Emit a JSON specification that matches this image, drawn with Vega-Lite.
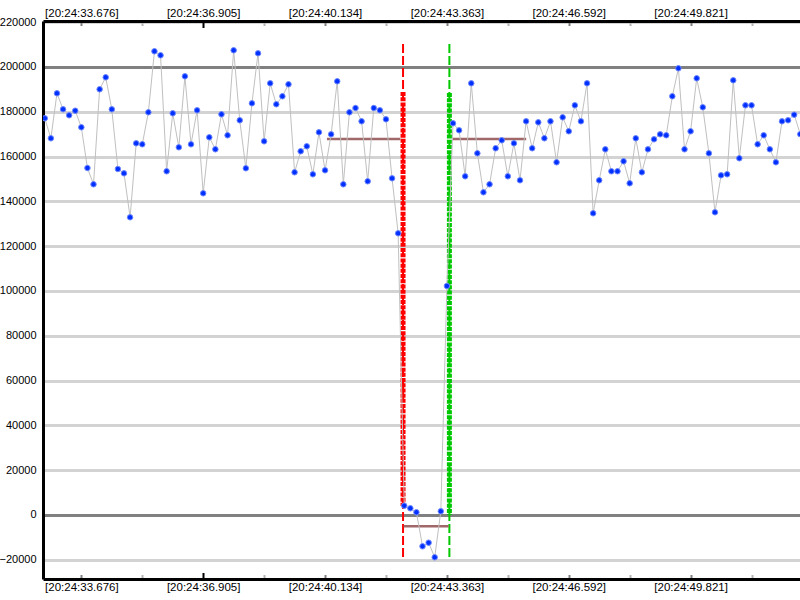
{
  "$schema": "https://vega.github.io/schema/vega-lite/v6.json",
  "width": 757,
  "height": 558,
  "autosize": "none",
  "padding": {"left": 43, "top": 21, "right": 0, "bottom": 21},
  "background": "white",
  "config": {
    "view": {"stroke": null},
    "axis": {"labelFont": "Liberation Sans", "labelFontSize": 11.5, "labelColor": "black", "labelFontWeight": "normal"},
    "axisY": {"labelFontSize": 11}
  },
  "datasets": {
    "pts": [
      {"t": 32.7073, "v": 177100}, {"t": 32.8688, "v": 168160}, {"t": 33.0302, "v": 188250}, {"t": 33.1917, "v": 181100},
      {"t": 33.3531, "v": 178430}, {"t": 33.5146, "v": 180480}, {"t": 33.676, "v": 173070}, {"t": 33.8375, "v": 154900},
      {"t": 33.9989, "v": 147620}, {"t": 34.1604, "v": 190030}, {"t": 34.3218, "v": 195390}, {"t": 34.4833, "v": 181100},
      {"t": 34.6447, "v": 154450}, {"t": 34.8062, "v": 152530}, {"t": 34.9676, "v": 132890}, {"t": 35.1291, "v": 165930},
      {"t": 35.2905, "v": 165480}, {"t": 35.452, "v": 179770}, {"t": 35.6134, "v": 207000}, {"t": 35.7749, "v": 205210},
      {"t": 35.9363, "v": 153430}, {"t": 36.0978, "v": 179320}, {"t": 36.2592, "v": 164140}, {"t": 36.4207, "v": 195830},
      {"t": 36.5821, "v": 165480}, {"t": 36.7436, "v": 180660}, {"t": 36.905, "v": 143610}, {"t": 37.0665, "v": 168600},
      {"t": 37.2279, "v": 163250}, {"t": 37.3894, "v": 178870}, {"t": 37.5508, "v": 169500}, {"t": 37.7123, "v": 207440},
      {"t": 37.8737, "v": 176200}, {"t": 38.0352, "v": 154770}, {"t": 38.1966, "v": 183780}, {"t": 38.3581, "v": 206100},
      {"t": 38.5195, "v": 166820}, {"t": 38.681, "v": 192710}, {"t": 38.8424, "v": 183340}, {"t": 39.0039, "v": 186910},
      {"t": 39.1653, "v": 192260}, {"t": 39.3268, "v": 152980}, {"t": 39.4882, "v": 162360}, {"t": 39.6497, "v": 164590},
      {"t": 39.8111, "v": 152090}, {"t": 39.9726, "v": 170840}, {"t": 40.134, "v": 153870}, {"t": 40.2955, "v": 169940},
      {"t": 40.4569, "v": 193600}, {"t": 40.6184, "v": 147620}, {"t": 40.7798, "v": 179770}, {"t": 40.9413, "v": 181680},
      {"t": 41.1027, "v": 175750}, {"t": 41.2642, "v": 148960}, {"t": 41.4256, "v": 181680}, {"t": 41.5871, "v": 180660},
      {"t": 41.7485, "v": 176640}, {"t": 41.91, "v": 150300}, {"t": 42.0714, "v": 125750}, {"t": 42.2329, "v": 4150},
      {"t": 42.3943, "v": 2990}, {"t": 42.5558, "v": 1205}, {"t": 42.7172, "v": -13970}, {"t": 42.8787, "v": -12370},
      {"t": 43.0401, "v": -18880}, {"t": 43.2016, "v": 1650}, {"t": 43.363, "v": 102230}, {"t": 43.5245, "v": 174850},
      {"t": 43.6859, "v": 171730}, {"t": 43.8474, "v": 151190}, {"t": 44.0088, "v": 192710}, {"t": 44.1703, "v": 161460},
      {"t": 44.3317, "v": 144050}, {"t": 44.4932, "v": 147620}, {"t": 44.6546, "v": 163700}, {"t": 44.8161, "v": 167270},
      {"t": 44.9775, "v": 151190}, {"t": 45.139, "v": 165930}, {"t": 45.3004, "v": 149410}, {"t": 45.4619, "v": 175750},
      {"t": 45.6233, "v": 163700}, {"t": 45.7848, "v": 175300}, {"t": 45.9462, "v": 168160}, {"t": 46.1077, "v": 175750},
      {"t": 46.2691, "v": 157450}, {"t": 46.4306, "v": 177530}, {"t": 46.592, "v": 171280}, {"t": 46.7535, "v": 182890},
      {"t": 46.9149, "v": 175750}, {"t": 47.0764, "v": 192710}, {"t": 47.2378, "v": 134680}, {"t": 47.3993, "v": 149410},
      {"t": 47.5607, "v": 163250}, {"t": 47.7222, "v": 153430}, {"t": 47.8836, "v": 153430}, {"t": 48.0451, "v": 157890},
      {"t": 48.2065, "v": 148070}, {"t": 48.368, "v": 168160}, {"t": 48.5294, "v": 152980}, {"t": 48.6909, "v": 163250},
      {"t": 48.8523, "v": 167710}, {"t": 49.0138, "v": 169940}, {"t": 49.1752, "v": 169500}, {"t": 49.3367, "v": 186910},
      {"t": 49.4981, "v": 199410}, {"t": 49.6596, "v": 163250}, {"t": 49.821, "v": 171280}, {"t": 49.9825, "v": 194940},
      {"t": 50.1439, "v": 182000}, {"t": 50.3054, "v": 161460}, {"t": 50.4668, "v": 135130}, {"t": 50.6283, "v": 151640},
      {"t": 50.7897, "v": 152090}, {"t": 50.9512, "v": 194050}, {"t": 51.1126, "v": 159230}, {"t": 51.2741, "v": 182890},
      {"t": 51.4355, "v": 182890}, {"t": 51.597, "v": 165480}, {"t": 51.7584, "v": 169500}, {"t": 51.9199, "v": 163250},
      {"t": 52.0813, "v": 157450}, {"t": 52.2428, "v": 175750}, {"t": 52.4042, "v": 176200}, {"t": 52.5657, "v": 178690},
      {"t": 52.7271, "v": 170000}
    ],
    "markers": [
      {"series": "start", "t": 42.201, "top": 210250, "bottom": -19200},
      {"series": "end", "t": 43.429, "top": 210250, "bottom": -19200}
    ],
    "fills": [
      {"series": "start", "t": 42.201, "top": 188800, "bottom": 4000},
      {"series": "end", "t": 43.429, "top": 188400, "bottom": 0}
    ],
    "means": [
      {"t1": 40.185, "t2": 42.13, "v": 167850},
      {"t1": 42.217, "t2": 43.411, "v": -5040},
      {"t1": 43.509, "t2": 45.464, "v": 167850}
    ]
  },
  "resolve": {"axis": {"x": "independent"}},
  "layer": [
    {
      "data": {"name": "markers"},
      "mark": {"type": "rule", "strokeWidth": 2, "strokeDash": [9, 3]},
      "encoding": {
        "x": {
          "field": "t", "type": "quantitative",
          "scale": {"domain": [32.66, 52.72], "nice": false, "zero": false},
          "axis": {
            "orient": "top", "title": null, "grid": false,
            "values": [33.676, 35.2905, 36.905, 38.5195, 40.134, 41.7485, 43.363, 44.9775, 46.592, 48.2065, 49.821, 51.4355],
            "labelExpr": "abs((datum.value - 33.676) / 3.229 - round((datum.value - 33.676) / 3.229)) < 0.01 ? '[20:24:' + format(datum.value, '06.3f') + ']' : ''",
            "labelOverlap": false, "labelFlush": false,
            "domainColor": "black", "domainWidth": 3,
            "ticks": true, "tickWidth": 2,
            "tickSize": {"condition": {"test": "datum.value == 36.905", "value": -6.5}, "value": -4.5},
            "tickColor": {"condition": [
              {"test": "datum.value == 36.905", "value": "black"},
              {"test": "abs((datum.value - 33.676) / 3.229 - round((datum.value - 33.676) / 3.229)) < 0.01", "value": "#808080"}
            ], "value": "#b4b4b4"},
            "labelPadding": {"condition": {"test": "datum.value == 36.905", "value": 9.5}, "value": 7.5}
          }
        },
        "y": {
          "field": "top", "type": "quantitative",
          "scale": {"domain": [-28570, 220520], "nice": false, "zero": false},
          "axis": {
            "title": null, "orient": "left",
            "values": [-20000, 0, 20000, 40000, 60000, 80000, 100000, 120000, 140000, 160000, 180000, 200000, 220000],
            "format": "d", "grid": true, "gridWidth": 3,
            "gridColor": {"condition": {"test": "datum.value == 0 || datum.value == 200000", "value": "#808080"}, "value": "#d3d3d3"},
            "domainColor": "black", "domainWidth": 3, "ticks": false, "labelPadding": 7
          }
        },
        "y2": {"field": "bottom"},
        "color": {"field": "series", "type": "nominal", "scale": {"domain": ["start", "end"], "range": ["#ff0000", "#00c800"]}, "legend": null}
      }
    },
    {
      "data": {"name": "fills"},
      "mark": {"type": "rule", "strokeWidth": 5, "strokeDash": [4, 1.2]},
      "encoding": {
        "x": {"field": "t", "type": "quantitative", "scale": {"domain": [32.66, 52.72], "nice": false, "zero": false}, "axis": null},
        "y": {
          "field": "top", "type": "quantitative",
          "scale": {"domain": [-28570, 220520], "nice": false, "zero": false},
          "axis": {
            "title": null, "orient": "left",
            "values": [-20000, 0, 20000, 40000, 60000, 80000, 100000, 120000, 140000, 160000, 180000, 200000, 220000],
            "format": "d", "grid": true, "gridWidth": 3,
            "gridColor": {"condition": {"test": "datum.value == 0 || datum.value == 200000", "value": "#808080"}, "value": "#d3d3d3"},
            "domainColor": "black", "domainWidth": 3, "ticks": false, "labelPadding": 7
          }
        },
        "y2": {"field": "bottom"},
        "color": {"field": "series", "type": "nominal", "scale": {"domain": ["start", "end"], "range": ["#ff0000", "#00c800"]}, "legend": null}
      }
    },
    {
      "data": {"name": "means"},
      "mark": {"type": "rule", "strokeWidth": 2.5, "color": "#a06868"},
      "encoding": {
        "x": {"field": "t1", "type": "quantitative", "scale": {"domain": [32.66, 52.72], "nice": false, "zero": false}, "axis": null},
        "x2": {"field": "t2"},
        "y": {
          "field": "v", "type": "quantitative",
          "scale": {"domain": [-28570, 220520], "nice": false, "zero": false},
          "axis": {
            "title": null, "orient": "left",
            "values": [-20000, 0, 20000, 40000, 60000, 80000, 100000, 120000, 140000, 160000, 180000, 200000, 220000],
            "format": "d", "grid": true, "gridWidth": 3,
            "gridColor": {"condition": {"test": "datum.value == 0 || datum.value == 200000", "value": "#808080"}, "value": "#d3d3d3"},
            "domainColor": "black", "domainWidth": 3, "ticks": false, "labelPadding": 7
          }
        }
      }
    },
    {
      "data": {"name": "pts"},
      "mark": {"type": "line", "color": "#c0c0c0", "strokeWidth": 1, "clip": true},
      "encoding": {
        "x": {
          "field": "t", "type": "quantitative",
          "scale": {"domain": [32.66, 52.72], "nice": false, "zero": false},
          "axis": {
            "orient": "bottom", "title": null, "grid": false,
            "values": [33.676, 35.2905, 36.905, 38.5195, 40.134, 41.7485, 43.363, 44.9775, 46.592, 48.2065, 49.821, 51.4355],
            "labelExpr": "abs((datum.value - 33.676) / 3.229 - round((datum.value - 33.676) / 3.229)) < 0.01 ? '[20:24:' + format(datum.value, '06.3f') + ']' : ''",
            "labelOverlap": false, "labelFlush": false,
            "domainColor": "black", "domainWidth": 3,
            "ticks": true, "tickWidth": 2,
            "tickSize": {"condition": {"test": "datum.value == 36.905", "value": -6.5}, "value": -4.5},
            "tickColor": {"condition": [
              {"test": "datum.value == 36.905", "value": "black"},
              {"test": "abs((datum.value - 33.676) / 3.229 - round((datum.value - 33.676) / 3.229)) < 0.01", "value": "#808080"}
            ], "value": "#b4b4b4"},
            "labelPadding": {"condition": {"test": "datum.value == 36.905", "value": 9}, "value": 7}
          }
        },
        "y": {
          "field": "v", "type": "quantitative",
          "scale": {"domain": [-28570, 220520], "nice": false, "zero": false},
          "axis": {
            "title": null, "orient": "left",
            "values": [-20000, 0, 20000, 40000, 60000, 80000, 100000, 120000, 140000, 160000, 180000, 200000, 220000],
            "format": "d", "grid": true, "gridWidth": 3,
            "gridColor": {"condition": {"test": "datum.value == 0 || datum.value == 200000", "value": "#808080"}, "value": "#d3d3d3"},
            "domainColor": "black", "domainWidth": 3, "ticks": false, "labelPadding": 7
          }
        }
      }
    },
    {
      "data": {"name": "pts"},
      "mark": {"type": "point", "shape": "circle", "filled": true, "size": 30, "color": "#0030ff", "stroke": "#7088ff", "strokeWidth": 1, "opacity": 1, "clip": true},
      "encoding": {
        "x": {"field": "t", "type": "quantitative", "scale": {"domain": [32.66, 52.72], "nice": false, "zero": false}, "axis": null},
        "y": {
          "field": "v", "type": "quantitative",
          "scale": {"domain": [-28570, 220520], "nice": false, "zero": false},
          "axis": {
            "title": null, "orient": "left",
            "values": [-20000, 0, 20000, 40000, 60000, 80000, 100000, 120000, 140000, 160000, 180000, 200000, 220000],
            "format": "d", "grid": true, "gridWidth": 3,
            "gridColor": {"condition": {"test": "datum.value == 0 || datum.value == 200000", "value": "#808080"}, "value": "#d3d3d3"},
            "domainColor": "black", "domainWidth": 3, "ticks": false, "labelPadding": 7
          }
        }
      }
    }
  ]
}
